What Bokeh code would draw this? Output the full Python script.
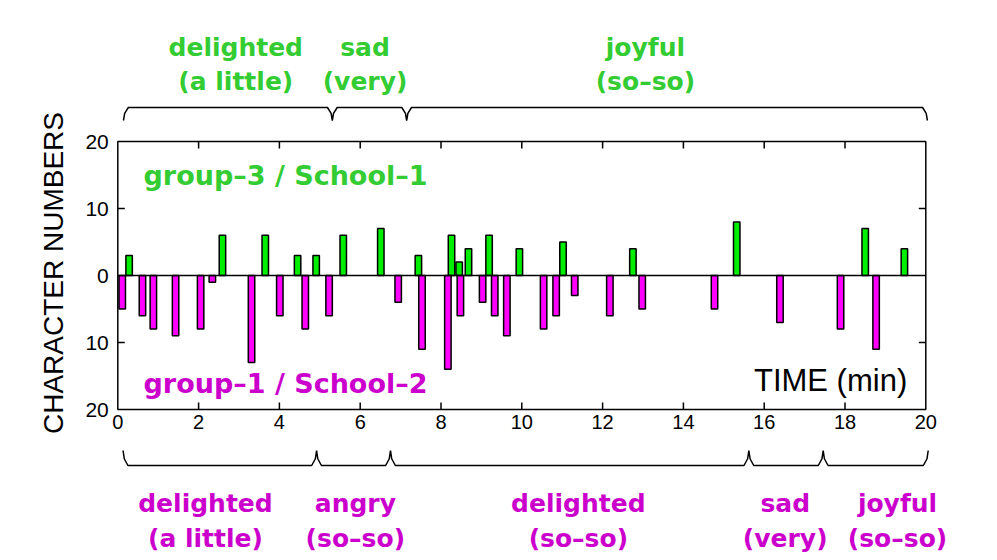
import math
from bokeh.plotting import figure
from bokeh.models import Range1d
from bokeh.core.properties import value
from bokeh.embed import file_html
from bokeh.resources import INLINE

# ---------------- data ----------------
g3_time = [0.28, 2.59, 3.65, 4.45, 4.91, 5.58, 6.51, 7.44, 8.26, 8.45, 8.68, 9.19,
           9.94, 11.02, 12.75, 15.32, 18.50, 19.47]
g3_count = [3, 6, 6, 3, 3, 6, 7, 3, 6, 2, 4, 6, 4, 5, 4, 8, 7, 4]

g1_time = [0.11, 0.61, 0.88, 1.43, 2.05, 2.34, 3.31, 4.01, 4.64, 5.23, 6.94, 7.53,
           8.17, 8.48, 9.03, 9.33, 9.63, 10.54, 10.85, 11.31, 12.18, 12.98, 14.77,
           16.39, 17.89, 18.77]
g1_count = [5, 6, 8, 9, 8, 1, 13, 6, 8, 6, 4, 11, 14, 6, 4, 6, 9, 8, 6, 3, 6, 5, 5,
            7, 8, 11]

x_ticks = [0, 2, 4, 6, 8, 10, 12, 14, 16, 18, 20]
x_tick_labels = [str(t) for t in x_ticks]
y_ticks = [-20, -10, 0, 10, 20]
y_tick_labels = ["20", "10", "0", "10", "20"]

# mood segments (time boundaries) and their labels
top_bounds = [0.14, 5.31, 7.15, 20.04]
top_line1 = ["delighted", "sad", "joyful"]
top_line2 = ["(a little)", "(very)", "(so\u2013so)"]
top_center = [2.92, 6.12, 13.06]

bot_bounds = [0.13, 4.92, 6.75, 15.62, 17.46, 20.06]
bot_line1 = ["delighted", "angry", "delighted", "sad", "joyful"]
bot_line2 = ["(a little)", "(so\u2013so)", "(so\u2013so)", "(very)", "(so\u2013so)"]
bot_center = [2.17, 5.88, 11.40, 16.52, 19.30]

X_MIN, X_MAX = 0, 20
Y_MIN, Y_MAX = -20, 20

# ---------------- layout / style ----------------
W, H = 981, 558
FRAME_L, FRAME_R = 117.3, 925.3      # pixel position of x=0 and x=20
FRAME_T, FRAME_B = 141.0, 409.0      # pixel position of y=20 and y=-20
PPX = (FRAME_R - FRAME_L) / (X_MAX - X_MIN)
PPY = (FRAME_B - FRAME_T) / (Y_MAX - Y_MIN)
BASE_SHIFT = 0.38  # empirical baseline correction (fraction of font size)


def px2x(px):
    return X_MIN + (px - FRAME_L) / PPX


def py2y(py):
    return Y_MAX - (py - FRAME_T) / PPY


def base_y(py, fs):
    return py2y(py - BASE_SHIFT * fs)


GREEN_TXT = "#33cc33"
MAG_TXT = "#cc00cc"
GREEN_BAR = "#00ee00"
MAG_BAR = "#ff00ff"
LABEL_FONT = value("DejaVu Sans")
AXIS_FONT = value("Liberation Sans")
BAR_W = 0.16
LW = 1.5
TICK = 7  # px

p = figure(width=W, height=H, x_range=Range1d(px2x(0), px2x(W)),
           y_range=Range1d(py2y(H), py2y(0)),
           x_axis_type=None, y_axis_type=None,
           output_backend="svg", toolbar_location=None, min_border=0)
p.background_fill_color = "white"
p.border_fill_color = "white"
p.outline_line_color = None
p.xgrid.visible = False
p.ygrid.visible = False

# bars
p.vbar(x=g3_time, width=BAR_W, bottom=0, top=g3_count, fill_color=GREEN_BAR,
       line_color="black", line_width=LW)
p.vbar(x=g1_time, width=BAR_W, top=0, bottom=[-c for c in g1_count], fill_color=MAG_BAR,
       line_color="black", line_width=LW)

# zero line
p.segment(x0=[X_MIN], y0=[0], x1=[X_MAX], y1=[0], line_color="black", line_width=LW)

# frame box
p.quad(left=[X_MIN], right=[X_MAX], bottom=[Y_MIN], top=[Y_MAX], fill_color=None,
       line_color="black", line_width=LW)

# inward ticks: bottom & top on x, left & right on y
inner_x = x_ticks[1:-1]
tick_dy = TICK / PPY
tick_dx = TICK / PPX
p.segment(x0=inner_x, y0=[Y_MIN] * len(inner_x), x1=inner_x,
          y1=[Y_MIN + tick_dy] * len(inner_x), line_color="black", line_width=LW)
p.segment(x0=inner_x, y0=[Y_MAX] * len(inner_x), x1=inner_x,
          y1=[Y_MAX - tick_dy] * len(inner_x), line_color="black", line_width=LW)
inner_y = [t for t in y_ticks if t not in (Y_MIN, Y_MAX, 0)]
p.segment(x0=[X_MIN] * len(inner_y), y0=inner_y, x1=[X_MIN + tick_dx] * len(inner_y),
          y1=inner_y, line_color="black", line_width=LW)
p.segment(x0=[X_MAX] * len(inner_y), y0=inner_y, x1=[X_MAX - tick_dx] * len(inner_y),
          y1=inner_y, line_color="black", line_width=LW)

# tick labels
p.text(x=x_ticks, y=[py2y(FRAME_B + 5)] * len(x_ticks), text=x_tick_labels,
       text_font=AXIS_FONT, text_font_size="20px", text_color="black",
       text_align="center", text_baseline="top")
p.text(x=[px2x(FRAME_L - 9)] * len(y_ticks), y=y_ticks, text=y_tick_labels,
       text_font=AXIS_FONT, text_font_size="21px", text_color="black",
       text_align="right", text_baseline="middle")

# axis title
p.text(x=[px2x(52.5)], y=[py2y(272.5)], text=["CHARACTER NUMBERS"], angle=math.pi / 2,
       text_font=AXIS_FONT, text_font_size="28px", text_color="black",
       text_align="center", text_baseline="middle")

# in-plot labels
p.text(x=[px2x(143)], y=[base_y(185, 27)], text=["group\u20133 / School\u20131"],
       text_font=LABEL_FONT, text_font_style="bold", text_font_size="27px",
       text_color=GREEN_TXT, text_align="left", text_baseline="alphabetic")
p.text(x=[px2x(143)], y=[base_y(393.5, 27)], text=["group\u20131 / School\u20132"],
       text_font=LABEL_FONT, text_font_style="bold", text_font_size="27px",
       text_color=MAG_TXT, text_align="left", text_baseline="alphabetic")
p.text(x=[px2x(906.7)], y=[base_y(392, 31)], text=["TIME (min)"],
       text_font=AXIS_FONT, text_font_size="31px", text_color="black",
       text_align="right", text_baseline="alphabetic")


def brace_path(bounds, line_y, tip_y):
    dx, dn = 0.12, 0.03
    mid = line_y + (tip_y - line_y) * 0.45
    xs, ys = [], []
    b0 = bounds[0]
    xs += [b0, b0 + dn, b0 + dx]
    ys += [tip_y, mid, line_y]
    for j in bounds[1:-1]:
        xs += [j - dx, j - dn, j, j + dn, j + dx]
        ys += [line_y, mid, tip_y, mid, line_y]
    b1 = bounds[-1]
    xs += [b1 - dx, b1 - dn, b1]
    ys += [line_y, mid, tip_y]
    return xs, ys


for bounds, ly, ty in ((top_bounds, py2y(107), py2y(120)),
                       (bot_bounds, py2y(465), py2y(450))):
    bx, by = brace_path(bounds, ly, ty)
    p.line(x=bx, y=by, line_color="black", line_width=LW)

for centers, l1, l2, color, b1, b2 in (
        (top_center, top_line1, top_line2, GREEN_TXT, 56.7, 90.0),
        (bot_center, bot_line1, bot_line2, MAG_TXT, 512.7, 547.4)):
    p.text(x=centers, y=[base_y(b1, 25)] * len(centers), text=l1, text_font=LABEL_FONT,
           text_font_style="bold", text_font_size="25px", text_color=color,
           text_align="center", text_baseline="alphabetic")
    p.text(x=centers, y=[base_y(b2, 25)] * len(centers), text=l2, text_font=LABEL_FONT,
           text_font_style="bold", text_font_size="25px", text_color=color,
           text_align="center", text_baseline="alphabetic")

open("out.html", "w").write(file_html(p, INLINE))
